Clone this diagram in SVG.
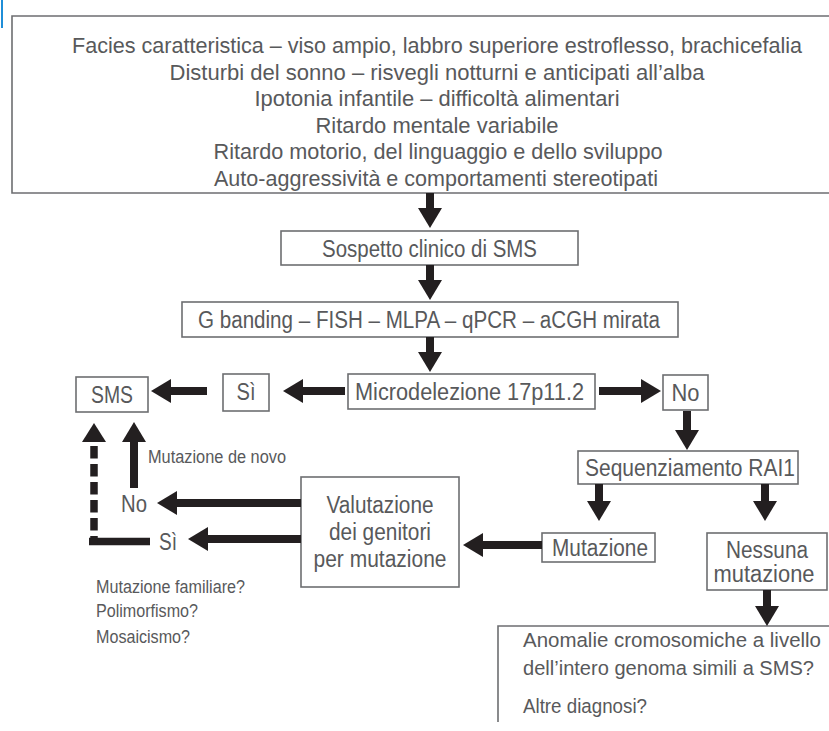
<svg xmlns="http://www.w3.org/2000/svg" width="829" height="731" viewBox="0 0 829 731">
  <defs>
    <marker id="head" markerUnits="userSpaceOnUse" markerWidth="20" markerHeight="24" refX="0" refY="12" orient="auto" overflow="visible">
      <path d="M0,0 L20,12 L0,24 Z" fill="#231f20"/>
    </marker>
    <style>
      .box { fill: #ffffff; stroke: #6d6e71; stroke-width: 1.6; }
      .t { font-family: "Liberation Sans", Arial, sans-serif; font-size: 23px; fill: #58595b; }
      .tt { font-size: 22px; }
      .tb { font-size: 20.5px; }
      .tc { text-anchor: middle; }
      .s { font-family: "Liberation Sans", Arial, sans-serif; font-size: 17.5px; fill: #58595b; }
      .arr { stroke: #231f20; stroke-width: 8; fill: none; marker-end: url(#head); }
      .bar { stroke: #231f20; stroke-width: 7.5; fill: none; }
    </style>
  </defs>
  <rect x="0" y="0" width="829" height="731" fill="#ffffff"/>
  <line x1="2" y1="0" x2="2" y2="28" stroke="#1f8ed8" stroke-width="2"/>

  <g id="sintomi">
    <path class="box" d="M829,16 H12 V193 H829"/>
    <text class="t tt tc" x="437" y="53" textLength="730" lengthAdjust="spacingAndGlyphs">Facies caratteristica – viso ampio, labbro superiore estroflesso, brachicefalia</text>
    <text class="t tt tc" x="437" y="79.5" textLength="535" lengthAdjust="spacingAndGlyphs">Disturbi del sonno – risvegli notturni e anticipati all’alba</text>
    <text class="t tt tc" x="437" y="106" textLength="365" lengthAdjust="spacingAndGlyphs">Ipotonia infantile – difficoltà alimentari</text>
    <text class="t tt tc" x="437" y="132.5" textLength="243" lengthAdjust="spacingAndGlyphs">Ritardo mentale variabile</text>
    <text class="t tt tc" x="438" y="159" textLength="449" lengthAdjust="spacingAndGlyphs">Ritardo motorio, del linguaggio e dello sviluppo</text>
    <text class="t tt tc" x="436" y="185.5" textLength="444" lengthAdjust="spacingAndGlyphs">Auto-aggressività e comportamenti stereotipati</text>
  </g>

  <g id="sospetto">
    <rect class="box" x="281" y="231" width="297" height="34"/>
    <text class="t tc" x="429.5" y="256.5" textLength="215" lengthAdjust="spacingAndGlyphs">Sospetto clinico di SMS</text>
  </g>

  <g id="test">
    <rect class="box" x="182" y="302" width="496" height="35"/>
    <text class="t tc" x="429" y="327.5" textLength="462" lengthAdjust="spacingAndGlyphs">G banding – FISH – MLPA – qPCR – aCGH mirata</text>
  </g>

  <g id="microdelezione">
    <rect class="box" x="348" y="374" width="247" height="35"/>
    <text class="t tc" x="469.5" y="399.5" textLength="229" lengthAdjust="spacingAndGlyphs">Microdelezione 17p11.2</text>
  </g>

  <g id="si1">
    <rect class="box" x="223" y="374" width="46" height="37"/>
    <text class="t tc" x="246" y="400" textLength="19" lengthAdjust="spacingAndGlyphs">Sì</text>
  </g>

  <g id="sms">
    <rect class="box" x="76" y="377" width="72" height="35"/>
    <text class="t tc" x="112" y="402.5" textLength="42" lengthAdjust="spacingAndGlyphs">SMS</text>
  </g>

  <g id="no1">
    <rect class="box" x="663" y="375" width="45" height="35"/>
    <text class="t tc" x="685.5" y="400.5" textLength="28" lengthAdjust="spacingAndGlyphs">No</text>
  </g>

  <g id="sequenziamento">
    <rect class="box" x="578" y="451" width="220" height="33"/>
    <text class="t tc" x="690" y="476" textLength="210" lengthAdjust="spacingAndGlyphs">Sequenziamento RAI1</text>
  </g>

  <g id="mutazione">
    <rect class="box" x="542" y="533" width="113" height="29"/>
    <text class="t tc" x="600" y="555.5" textLength="96" lengthAdjust="spacingAndGlyphs">Mutazione</text>
  </g>

  <g id="nessuna">
    <rect class="box" x="707" y="533" width="120" height="57"/>
    <text class="t tc" x="767" y="558" textLength="82" lengthAdjust="spacingAndGlyphs">Nessuna</text>
    <text class="t tc" x="764" y="582" textLength="101" lengthAdjust="spacingAndGlyphs">mutazione</text>
  </g>

  <g id="anomalie">
    <path class="box" d="M829,626 H498 V722"/>
    <text class="t tb" x="523" y="647" textLength="298" lengthAdjust="spacingAndGlyphs">Anomalie cromosomiche a livello</text>
    <text class="t tb" x="523" y="675" textLength="291" lengthAdjust="spacingAndGlyphs">dell’intero genoma simili a SMS?</text>
    <text class="t tb" x="523" y="713" textLength="124" lengthAdjust="spacingAndGlyphs">Altre diagnosi?</text>
  </g>

  <g id="valutazione">
    <rect class="box" x="301" y="477" width="158" height="110"/>
    <text class="t tc" x="380" y="512.5" textLength="107" lengthAdjust="spacingAndGlyphs">Valutazione</text>
    <text class="t tc" x="380" y="539.5" textLength="102" lengthAdjust="spacingAndGlyphs">dei genitori</text>
    <text class="t tc" x="380" y="567" textLength="133" lengthAdjust="spacingAndGlyphs">per mutazione</text>
  </g>

  <g id="no2">
    <text class="t tc" x="134" y="512" textLength="26" lengthAdjust="spacingAndGlyphs">No</text>
  </g>

  <g id="si2">
    <text class="t" x="159" y="549.5" textLength="18" lengthAdjust="spacingAndGlyphs">Sì</text>
  </g>

  <g id="note">
    <text class="s" x="148" y="462.5" textLength="138" lengthAdjust="spacingAndGlyphs">Mutazione de novo</text>
    <text class="s" x="96" y="593" textLength="149" lengthAdjust="spacingAndGlyphs">Mutazione familiare?</text>
    <text class="s" x="96" y="617" textLength="102" lengthAdjust="spacingAndGlyphs">Polimorfismo?</text>
    <text class="s" x="96" y="643" textLength="94" lengthAdjust="spacingAndGlyphs">Mosaicismo?</text>
  </g>

  <g id="connettori">
    <line class="arr" x1="430" y1="193" x2="430" y2="208"/>
    <line class="arr" x1="430" y1="265" x2="430" y2="280"/>
    <line class="arr" x1="430" y1="337" x2="430" y2="352"/>
    <line class="arr" x1="345" y1="391" x2="303" y2="391"/>
    <line class="arr" x1="207" y1="391" x2="171" y2="391"/>
    <line class="arr" x1="599" y1="391" x2="641" y2="391"/>
    <line class="arr" x1="687" y1="411" x2="687" y2="430"/>
    <line class="arr" x1="599" y1="484" x2="599" y2="501"/>
    <line class="arr" x1="765" y1="484" x2="765" y2="501"/>
    <line class="arr" x1="767" y1="590" x2="767" y2="606"/>
    <line class="arr" x1="542" y1="545" x2="483" y2="545"/>
    <line class="arr" x1="301" y1="503" x2="177" y2="503"/>
    <line class="arr" x1="301" y1="539" x2="208" y2="539"/>
    <line class="arr" x1="134" y1="488" x2="134" y2="442"/>
    <line class="bar" x1="89" y1="541.5" x2="150" y2="541.5"/>
    <line class="bar" x1="94" y1="446" x2="94" y2="545" stroke-dasharray="12.5 5.5"/>
    <path d="M82,442 L94,423 L106,442 Z" fill="#231f20"/>
  </g>
</svg>
